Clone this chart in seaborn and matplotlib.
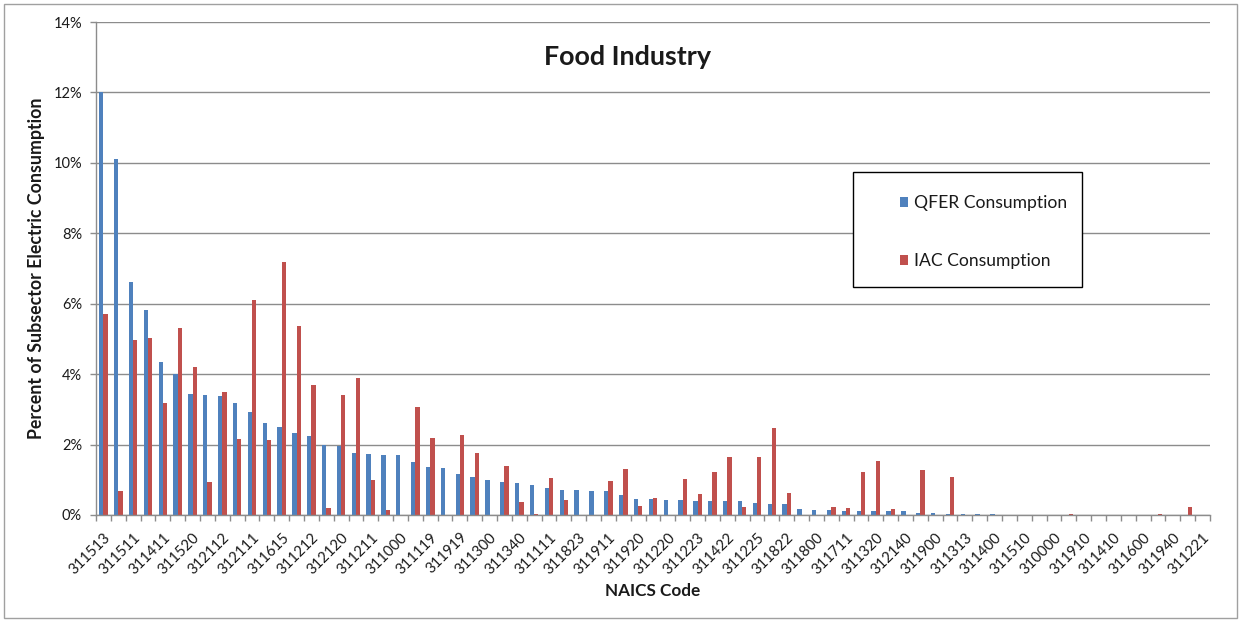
import numpy as np
import pandas as pd
import matplotlib
matplotlib.use("Agg")
import matplotlib.pyplot as plt
from matplotlib.patches import Patch, Rectangle
from matplotlib.ticker import FuncFormatter, MultipleLocator
import seaborn as sns

# NAICS codes printed under every other category (categories 1, 3, 5, ...)
tick_codes = [
    "311513", "311511", "311411", "311520", "312112", "312111", "311615",
    "311212", "312120", "311211", "311000", "311119", "311919", "311300",
    "311340", "311111", "311823", "311911", "311920", "311220", "311223",
    "311422", "311225", "311822", "311800", "311711", "311320", "312140",
    "311900", "311313", "311400", "311510", "310000", "311910", "311410",
    "311600", "311940", "311221",
]

# Percent of subsector electric consumption, sorted by QFER share
qfer = [
    12.00, 10.11, 6.63, 5.82, 4.34, 4.01, 3.45, 3.42, 3.38, 3.19,
    2.93, 2.62, 2.50, 2.33, 2.25, 2.00, 1.95, 1.76, 1.74, 1.71,
    1.69, 1.51, 1.37, 1.34, 1.17, 1.07, 1.00, 0.94, 0.90, 0.85,
    0.78, 0.71, 0.70, 0.69, 0.68, 0.57, 0.45, 0.45, 0.43, 0.42,
    0.41, 0.39, 0.39, 0.39, 0.34, 0.31, 0.31, 0.16, 0.13, 0.13,
    0.12, 0.11, 0.11, 0.10, 0.10, 0.06, 0.05, 0.02, 0.02, 0.02,
    0.02, 0.01, 0.00, 0.00, 0.00, 0.00, 0.00, 0.00, 0.00, 0.00,
    0.00, 0.00, 0.00, 0.00, 0.00,
]
iac = [
    5.70, 0.69, 4.98, 5.03, 3.17, 5.32, 4.21, 0.94, 3.49, 2.17,
    6.10, 2.14, 7.19, 5.38, 3.70, 0.19, 3.41, 3.89, 0.98, 0.13,
    0.00, 3.08, 2.18, 0.00, 2.28, 1.76, 0.00, 1.39, 0.36, 0.03,
    1.05, 0.42, 0.00, 0.00, 0.97, 1.31, 0.25, 0.48, 0.00, 1.03,
    0.59, 1.22, 1.66, 0.23, 1.65, 2.48, 0.63, 0.00, 0.00, 0.23,
    0.20, 1.22, 1.53, 0.17, 0.00, 1.27, 0.00, 1.08, 0.00, 0.00,
    0.00, 0.00, 0.00, 0.00, 0.00, 0.02, 0.00, 0.00, 0.00, 0.00,
    0.00, 0.02, 0.00, 0.23, 0.00,
]

series_names = ["QFER Consumption", "IAC Consumption"]
series_colors = ["#4F81BD", "#C0504D"]
grid_gray = "#8C8C8C"
text_color = "#1A1A1A"

n = len(qfer)
pos = np.arange(n)
df = pd.DataFrame({
    "pos": np.concatenate([pos, pos]),
    "value": qfer + iac,
    "series": [series_names[0]] * n + [series_names[1]] * n,
})

sns.set_theme(style="white")
plt.rcParams["font.family"] = ["Lato", "DejaVu Sans"]
plt.rcParams["text.color"] = text_color

W, H = 1241, 622
fig = plt.figure(figsize=(W / 100, H / 100), dpi=100)
fig.patch.set_facecolor("white")
ax = fig.add_axes([96 / W, 107 / H, (1210 - 96) / W, (515 - 22) / H])

sns.barplot(
    data=df, x="pos", y="value", hue="series", order=list(pos),
    hue_order=series_names, palette=series_colors, width=0.58, gap=0,
    saturation=1, errorbar=None, legend=False, linewidth=0, ax=ax,
)

ax.set_xlim(-0.5, n - 0.5)
ax.set_ylim(0, 14)
ax.yaxis.set_major_locator(MultipleLocator(2))
ax.yaxis.set_major_formatter(FuncFormatter(lambda v, _: f"{v:.0f}%"))
ax.grid(axis="y", color=grid_gray, linewidth=1)
ax.grid(axis="x", visible=False)
ax.set_axisbelow(True)
for side in ("top", "right"):
    ax.spines[side].set_visible(False)
for side in ("left", "bottom"):
    ax.spines[side].set_color(grid_gray)
    ax.spines[side].set_linewidth(1)

# labels on every other category, tick marks on category boundaries
ax.set_xticks(pos[::2])
ax.set_xticklabels(tick_codes, rotation=45, ha="right", va="top",
                   rotation_mode="anchor")
ax.set_xticks(np.arange(-0.5, n, 1), minor=True)
ax.tick_params(axis="x", which="major", length=0, pad=11, labelsize=10.7,
               labelcolor=text_color)
ax.tick_params(axis="x", which="minor", length=4, width=1, color=grid_gray,
               direction="out", bottom=True)
ax.tick_params(axis="y", length=4, width=1, color=grid_gray, left=True,
               pad=6, labelsize=10.5, labelcolor=text_color)
ax.set_xlabel("")
ax.set_ylabel("")

fig.text(627 / W, 1 - 57 / H, "Food Industry", ha="center", va="center",
         fontsize=19.4, fontweight="bold")
fig.text(37 / W, 1 - 268 / H, "Percent of Subsector Electric Consumption",
         ha="center", va="center", rotation=90, fontsize=12.8,
         fontweight="bold")
fig.text(653 / W, 1 - 591 / H, "NAICS Code", ha="center", va="center",
         fontsize=12.3, fontweight="bold")

# legend box
fig.patches.append(Rectangle((853 / W, 1 - 287 / H), 229 / W, 115 / H,
                             transform=fig.transFigure, facecolor="white",
                             edgecolor="black", linewidth=1, zorder=4))
handles = [Patch(facecolor=c, edgecolor="none") for c in series_colors]
leg = fig.legend(handles, series_names, loc="center left",
                 bbox_to_anchor=(900 / W, 1 - 232 / H),
                 bbox_transform=fig.transFigure, frameon=False,
                 fontsize=12.6, handlelength=0.47, handleheight=0.47,
                 handletextpad=0.35, labelspacing=2.4, borderpad=0,
                 borderaxespad=0)
leg.set_zorder(5)

# chart area border
fig.patches.append(Rectangle((4 / W, 4 / H), (W - 8) / W, (H - 8) / H,
                             transform=fig.transFigure, facecolor="none",
                             edgecolor="#A0A0A0", linewidth=1, zorder=10))

fig.savefig("out.png", dpi=100)
